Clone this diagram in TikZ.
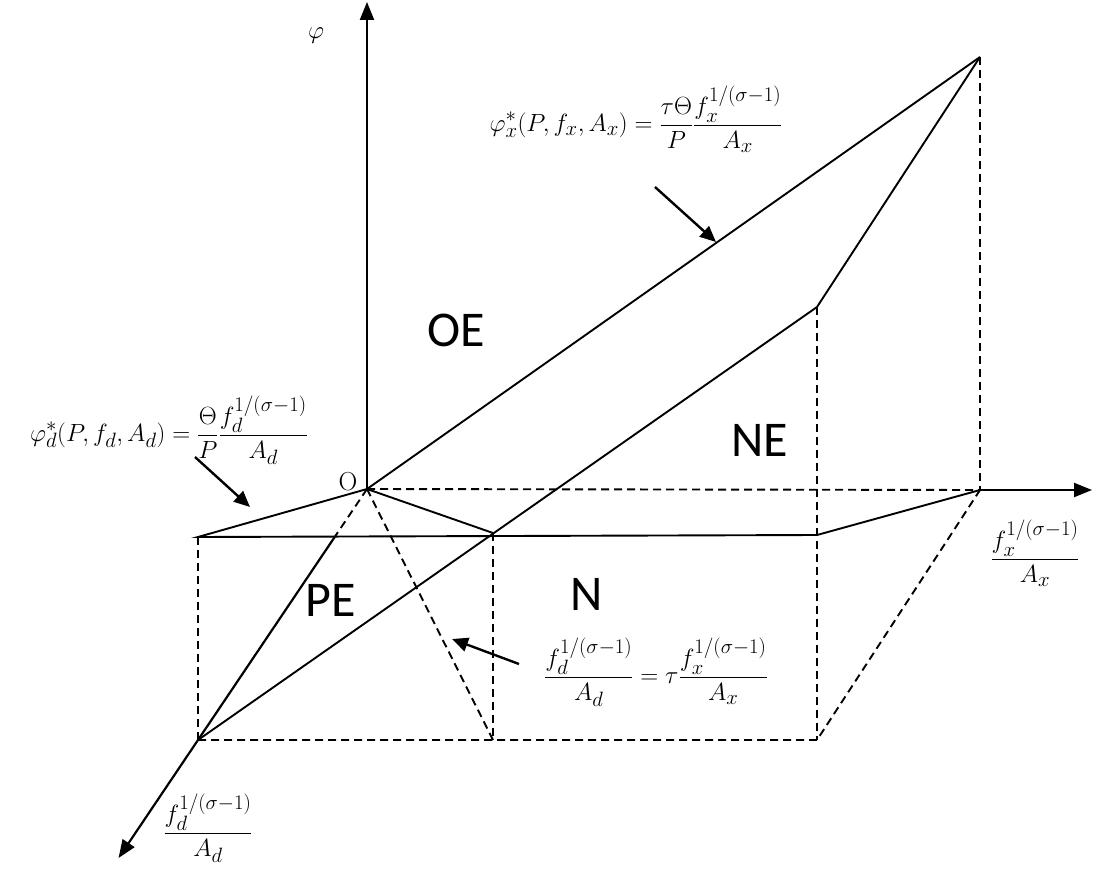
\documentclass[tikz,border=0pt]{standalone}
\usepackage{fontspec}
\setsansfont{Carlito}
\DeclareMathSizes{30}{30}{22}{16}
\usetikzlibrary{arrows.meta,calc}
\newcommand{\fxs}{f_{\vphantom{d}x}^{1/(\sigma-1)}}
\newcommand{\fds}{f_d^{1/(\sigma-1)}}
\begin{document}
\begin{tikzpicture}[x=1pt,y=-1pt,
  solidline/.style={line width=1.9pt},
  dashline/.style={line width=1.9pt, dash pattern=on 8pt off 5pt},
  axis/.style={line width=2.2pt,-{Triangle[length=18pt,width=14pt]}},
  pointer/.style={line width=2.4pt,-{Triangle[length=16pt,width=14pt]}},
  region/.style={font=\sffamily\fontsize{50}{60}\selectfont},
  formula/.style={font=\fontsize{30}{36}\selectfont, inner sep=0pt}]
\useasboundingbox (0,0) rectangle (1093,872);
% key points
\coordinate (O) at (367,489);
\coordinate (T) at (980,57);
\coordinate (K) at (817,307);
\coordinate (X) at (980,490);
\coordinate (XE) at (1092,490);
\coordinate (YE) at (367,2);
\coordinate (L) at (198,537);
\coordinate (M) at (493,533);
\coordinate (R) at (817,535);
\coordinate (D) at (198,740);
\coordinate (MB) at (493,740);
\coordinate (KB) at (817,740);
\coordinate (S) at ($(O)!0.191!(D)$);
\coordinate (DE) at ($(O)!1.47!(D)$);
% axes
\draw[axis] (O) -- (YE);
\draw[dashline] (O) -- (X);
\draw[axis] (X) -- (XE);
\draw[dashline] (O) -- (S);
\draw[axis] (S) -- (DE);
% solid lines
\draw[solidline] (O) -- (T);
\draw[solidline] (D) -- (K) -- (T);
\draw[solidline] (O) -- (L) -- (R) -- (X);
\draw[solidline] (O) -- (M);
% dashed lines
\draw[dashline] (T) -- (X);
\draw[dashline] (K) -- (KB);
\draw[dashline] (M) -- (MB);
\draw[dashline] (L) -- (D);
\draw[dashline] (D) -- (KB) -- (X);
\draw[dashline] (O) -- (MB);
% labels
\node[formula] (phi) at (316,36) {$\varphi$};
\node[font=\rmfamily\fontsize{26}{30}\selectfont, inner sep=0pt] (olab) at (348,482) {O};
\node[region] (oe) at (456,330) {OE};
\node[region] (ne) at (760,440) {NE};
\node[region] (pe) at (331,600) {PE};
\node[region] (n) at (587,594) {N};
\node[formula] (fx) at (636,119) {$\displaystyle \varphi^*_x(P,f_x,A_x)=\frac{\tau\Theta}{P}\frac{\fxs}{A_x}$};
\node[formula] (fd) at (169,430) {$\displaystyle \varphi^*_d(P,f_d,A_d)=\frac{\Theta}{P}\frac{\fds}{A_d}$};
\node[formula] (fb) at (656,672) {$\displaystyle \frac{\fds}{A_d}=\tau\frac{\fxs}{A_x}$};
\node[formula] (xl) at (1035,553) {$\displaystyle \frac{\fxs}{A_x}$};
\node[formula] (dl) at (208,828) {$\displaystyle \frac{\fds}{A_d}$};
% pointers
\coordinate (a1s) at (655,187);
\coordinate (a1e) at (716,242);
\coordinate (a2s) at (195,457);
\coordinate (a2e) at (250,507);
\coordinate (a3s) at (519,664);
\coordinate (a3e) at (452,639);
\draw[pointer] (a1s) -- (a1e);
\draw[pointer] (a2s) -- (a2e);
\draw[pointer] (a3s) -- (a3e);
\end{tikzpicture}
\end{document}
